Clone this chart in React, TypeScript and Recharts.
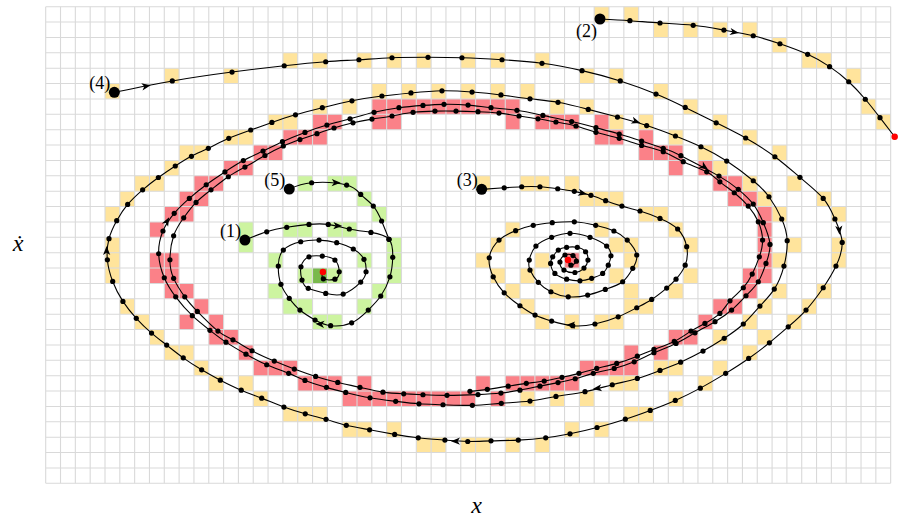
import React from 'react';
import {
  ComposedChart, Line, Scatter, XAxis, YAxis,
  ReferenceArea, ReferenceLine, Label,
} from 'recharts';

type P = [number, number];

// grid: 57 columns x 31 rows, y counted downward from the top row
const COLS = 57;
const ROWS = 31;
const X_MAX = 57.4; // a little room on the right for the exit point of (2)
const colTicks = Array.from({ length: COLS + 1 }, (_, i) => i);
const rowTicks = Array.from({ length: ROWS + 1 }, (_, i) => i);

const traj1: P[] = [
  [13.44, 15.18], [14.91, 14.64], [16.26, 14.35], [17.76, 14.16], [19.06, 14.16], [20.48, 14.46],
  [21.94, 14.68], [23.16, 15.13], [23.41, 16.3], [23.22, 17.57], [22.6, 18.82], [21.76, 19.73],
  [20.64, 20.56], [19.22, 20.75], [18.17, 20.38], [17.15, 19.73], [16.43, 18.97], [15.87, 18.06],
  [15.69, 16.87], [16.03, 15.83], [17.2, 15.29], [18.44, 15.18], [19.63, 15.35], [20.75, 15.76],
  [21.47, 16.43], [21.61, 17.24], [21.25, 17.91], [20.07, 18.69], [18.89, 18.65], [17.71, 18.32],
  [17.29, 17.78], [17.22, 16.92], [17.76, 16.27], [18.66, 16.22], [19.51, 16.48], [19.8, 17.24],
  [19.51, 17.72], [18.73, 17.7], [18.7, 17.26],
];

const traj2: P[] = [
  [37.39, 0.8], [39.41, 0.91], [41.44, 1.06], [43.68, 1.21], [45.75, 1.52], [47.73, 1.89],
  [49.53, 2.41], [51.4, 3.1], [52.88, 3.9], [54.17, 4.88], [55.29, 6.02], [56.28, 7.22], [57.27, 8.46],
];

const traj3: P[] = [
  [29.41, 11.88], [30.93, 11.78], [32.11, 11.71], [33.34, 11.71], [34.54, 11.84], [35.66, 12.01],
  [36.78, 12.27], [37.77, 12.62], [38.87, 12.97], [40.09, 13.29], [41.44, 13.77], [42.63, 14.46],
  [43.24, 15.61], [43.14, 16.81], [42.52, 17.72], [41.89, 18.3], [40.88, 19.04], [39.87, 19.58],
  [38.62, 20.17], [37.05, 20.64], [35.55, 20.75], [34.13, 20.45], [33.01, 20.06], [31.99, 19.45],
  [30.93, 18.61], [30.19, 17.57], [29.92, 16.33], [30.58, 15.18], [31.7, 14.57], [32.89, 14.22],
  [34.17, 14.05], [35.66, 13.99], [37.1, 14.22], [38.33, 14.59], [39.23, 15.18], [39.87, 16.15],
  [39.6, 17.02], [38.92, 17.89], [37.75, 18.39], [36.56, 18.76], [35.25, 18.87], [34.08, 18.54],
  [33.23, 17.93], [32.67, 17.13], [32.62, 16.48], [33.07, 15.57], [34.13, 15.0], [35.37, 14.74],
  [36.72, 15.0], [37.84, 15.57], [38.13, 16.2], [37.95, 16.81], [37.57, 17.35], [36.83, 17.67],
  [36.04, 17.83], [35.14, 17.72], [34.35, 17.35], [34.06, 16.7], [34.2, 16.27], [34.58, 15.83],
  [35.14, 15.65], [35.86, 15.65], [36.42, 15.94], [36.58, 16.48], [36.31, 17.0], [35.7, 17.29],
  [34.96, 17.13], [34.69, 16.61], [35.03, 16.15], [35.57, 16.19], [35.8, 16.55], [35.43, 16.81],
  [35.23, 16.48],
];

const traj4: P[] = [
  [4.63, 5.57], [8.54, 4.83], [12.57, 4.25], [16.09, 3.84], [18.89, 3.58], [21.13, 3.45],
  [23.36, 3.32], [25.79, 3.29], [28.08, 3.32], [30.78, 3.45], [33.48, 3.68], [36.18, 4.16],
  [38.76, 4.83], [41.17, 5.68], [43.14, 6.55], [45.23, 7.55], [47.22, 8.54], [49.19, 9.76],
  [50.88, 11.1], [52.45, 12.47], [53.24, 13.81], [53.73, 15.33], [53.31, 16.87], [52.45, 18.28],
  [51.29, 19.73], [50.09, 20.82], [48.82, 21.86], [47.42, 22.88], [45.87, 23.85], [44.16, 24.81],
  [42.47, 25.61], [40.78, 26.26], [39.1, 26.83], [37.19, 27.37], [35.37, 27.78], [33.73, 28.04],
  [31.88, 28.19], [30.04, 28.24], [28.47, 28.28], [26.93, 28.19], [25.13, 28.04], [23.54, 27.82],
  [21.85, 27.52], [20.28, 27.23], [18.91, 26.84], [17.51, 26.48], [16.07, 26.04], [14.57, 25.46],
  [13.19, 24.94], [11.78, 24.29], [10.52, 23.62], [9.28, 22.84], [8.16, 22.01], [7.14, 21.23],
  [6.11, 20.27], [5.21, 19.17], [4.52, 17.87], [4.16, 16.46], [4.27, 15.09], [4.79, 13.92],
  [5.53, 12.86], [6.54, 11.91], [7.6, 11.11], [8.74, 10.36], [9.83, 9.73], [10.97, 9.21],
  [12.35, 8.56], [13.83, 8.02], [15.26, 7.53], [16.85, 7.03], [18.66, 6.57], [20.66, 6.12],
  [22.68, 5.81], [24.64, 5.61], [26.73, 5.47], [28.76, 5.55], [30.71, 5.74], [32.67, 5.99],
  [34.56, 6.22], [36.6, 6.68], [38.57, 7.18], [40.54, 7.73], [42.48, 8.41], [44.2, 9.11],
  [45.94, 10.04], [47.73, 11.32], [48.79, 12.36], [49.65, 13.81], [50.02, 15.22], [49.8, 16.87],
  [49.15, 18.37], [48.18, 19.47], [47.06, 20.64], [45.77, 21.57], [44.34, 22.4], [42.83, 23.12],
  [41.44, 23.66], [39.91, 24.18], [38.22, 24.59], [36.38, 25.04], [34.42, 25.35], [32.67, 25.65],
  [30.73, 25.8], [28.78, 25.93], [26.8, 25.89], [25.18, 25.83], [23.61, 25.67], [21.88, 25.44],
  [20.24, 25.09], [18.94, 24.76], [17.49, 24.31], [16.39, 23.85], [14.91, 23.29], [13.51, 22.6],
  [12.16, 21.82], [11.08, 21.05], [9.89, 20.1], [8.77, 18.87], [8.0, 17.63], [7.62, 16.07],
  [7.91, 14.59], [8.67, 13.44], [9.69, 12.47], [10.83, 11.58], [12.09, 10.75], [13.33, 10.01],
  [14.66, 9.39], [15.97, 8.78], [17.49, 8.18], [18.97, 7.7], [20.53, 7.29], [22.15, 6.87],
  [23.83, 6.57], [25.45, 6.42], [26.87, 6.35], [28.49, 6.4], [30.04, 6.57], [31.79, 6.74],
  [33.54, 7.07], [35.48, 7.47], [37.12, 7.87], [38.69, 8.28], [40.2, 8.74], [41.66, 9.21],
  [42.85, 9.69], [45.42, 11.02], [46.72, 11.88], [47.73, 12.84], [48.41, 14.05], [48.86, 15.46],
  [48.59, 16.7], [48.07, 17.89], [47.24, 18.8], [46.27, 19.73], [45.15, 20.49], [43.8, 21.21],
  [42.52, 21.9], [41.03, 22.51], [39.7, 23.1], [38.35, 23.53], [36.94, 23.85], [35.72, 24.2],
  [34.56, 24.45], [33.34, 24.68], [31.99, 24.94], [30.71, 25.13], [29.16, 25.23], [27.07, 25.28],
  [25.45, 25.24], [24.15, 25.18], [22.75, 25.07], [21.2, 24.76], [19.7, 24.44], [18.21, 24.05],
  [16.77, 23.57], [15.42, 23.05], [13.92, 22.38], [12.63, 21.67], [11.62, 21.1], [10.23, 19.82],
  [9.38, 18.87], [8.63, 17.67], [8.38, 16.46], [8.63, 14.9], [9.31, 13.73], [10.14, 12.73],
  [11.15, 11.91], [12.32, 11.06], [13.44, 10.43], [14.79, 9.68], [16.03, 9.06], [17.15, 8.64],
  [18.3, 8.26], [19.45, 7.89], [20.73, 7.55], [22.01, 7.31], [23.36, 7.11], [24.78, 6.87],
  [26.26, 6.79], [27.68, 6.79], [29.16, 6.83], [30.58, 6.92], [31.93, 7.11], [33.21, 7.29],
  [34.42, 7.5], [35.77, 7.76], [37.12, 8.17], [38.69, 8.56], [40.2, 9.02], [41.66, 9.43],
  [43.01, 10.08], [44.59, 10.74], [45.48, 11.39], [46.45, 12.1], [47.39, 12.97], [48.07, 13.99],
  [48.36, 15.18], [48.14, 16.27], [47.66, 17.39], [47.06, 18.28], [46.16, 19.13], [45.48, 19.95],
  [44.47, 20.6], [43.53, 21.1], [42.4, 21.77], [41.03, 22.29], [39.91, 22.73], [38.52, 23.2],
  [37.17, 23.53], [35.97, 23.85], [34.83, 24.11], [33.63, 24.35], [32.42, 24.5], [31.2, 24.68],
  [29.79, 24.89], [28.62, 25.02],
];

const traj5: P[] = [
  [16.43, 11.86], [17.94, 11.45], [20.3, 11.6], [21.25, 12.21], [22.1, 12.97], [22.66, 13.94],
  [23.16, 15.13],
];

const trajectories = [traj1, traj2, traj3, traj4, traj5];
const startLabels = ['(1)', '(2)', '(3)', '(4)', '(5)'];

// arrowheads: x, y, heading in degrees (screen, clockwise from +x)
const arrows: [number, number, number][] = [
  [6.82, 5.16, -10], [53.53, 14.57, 85], [27.61, 28.26, 180], [4.11, 15.83, -90],
  [39.86, 7.48, 18], [37.17, 24.83, 172], [8.2, 13.92, -62], [44.47, 10.45, 35],
  [46.5, 1.67, 10], [19.74, 14.25, 2], [18.46, 20.64, 185], [19.63, 11.45, 2],
  [36.26, 12.14, 12], [35.38, 20.71, 180],
];

// red points: the two equilibria (the exit of (2) is added from traj2)
const equilibria: P[] = [[18.7, 17.26], [35.23, 16.48]];

// coloured cells [col, row]
const yellowCells: P[] = [
  [37, 0], [39, 0],
  [41, 1], [43, 1], [45, 1], [47, 1],
  [49, 2],
  [16, 3], [18, 3], [21, 3], [23, 3], [25, 3], [28, 3], [30, 3], [33, 3], [51, 3], [52, 3],
  [8, 4], [12, 4], [36, 4], [38, 4], [54, 4],
  [4, 5], [22, 5], [24, 5], [26, 5], [28, 5], [30, 5], [32, 5], [41, 5],
  [18, 6], [20, 6], [34, 6], [36, 6], [43, 6], [55, 6],
  [15, 7], [16, 7], [38, 7], [40, 7], [45, 7], [56, 7],
  [12, 8], [13, 8], [42, 8], [47, 8],
  [9, 9], [10, 9], [44, 9], [49, 9],
  [8, 10], [45, 10],
  [6, 11], [7, 11], [29, 11], [32, 11], [33, 11], [35, 11], [47, 11], [50, 11],
  [5, 12], [36, 12], [37, 12], [38, 12], [48, 12], [52, 12],
  [4, 13], [40, 13], [41, 13], [49, 13], [53, 13],
  [31, 14], [37, 14], [42, 14],
  [4, 15], [30, 15], [38, 15], [39, 15], [43, 15], [50, 15], [53, 15],
  [4, 16], [29, 16], [33, 16], [39, 16], [49, 16], [53, 16],
  [4, 17], [30, 17], [32, 17], [36, 17], [38, 17], [43, 17],
  [31, 18], [34, 18], [35, 18], [39, 18], [42, 18], [49, 18], [52, 18],
  [5, 19], [32, 19], [39, 19], [40, 19], [48, 19], [51, 19],
  [6, 20], [33, 20], [35, 20], [37, 20], [38, 20], [47, 20], [50, 20],
  [7, 21], [45, 21], [48, 21],
  [8, 22], [9, 22], [47, 22],
  [10, 23], [41, 23], [42, 23], [45, 23],
  [11, 24], [13, 24], [38, 24], [39, 24], [44, 24],
  [14, 25], [32, 25], [34, 25], [36, 25], [42, 25],
  [16, 26], [17, 26], [18, 26], [39, 26], [40, 26],
  [20, 27], [21, 27], [23, 27], [35, 27], [37, 27],
  [25, 28], [26, 28], [28, 28], [29, 28], [31, 28], [33, 28],
];

const redCells: P[] = [
  [22, 6], [23, 6], [24, 6], [25, 6], [26, 6], [27, 6], [28, 6], [29, 6], [30, 6], [31, 6],
  [18, 7], [19, 7], [22, 7], [23, 7], [31, 7], [33, 7], [34, 7], [35, 7], [37, 7],
  [16, 8], [17, 8], [18, 8], [37, 8], [38, 8], [40, 8],
  [14, 9], [15, 9], [40, 9], [41, 9], [42, 9],
  [12, 10], [13, 10], [42, 10], [44, 10],
  [10, 11], [11, 11], [45, 11], [46, 11],
  [9, 12], [10, 12], [46, 12], [47, 12],
  [8, 13], [9, 13], [48, 13],
  [7, 14], [48, 14],
  [48, 15],
  [7, 16], [8, 16], [35, 16], [48, 16],
  [7, 17], [8, 17], [47, 17], [48, 17],
  [8, 18], [9, 18], [47, 18],
  [10, 19], [45, 19], [46, 19],
  [9, 20], [11, 20], [44, 20],
  [11, 21], [12, 21], [42, 21], [43, 21],
  [13, 22], [39, 22], [41, 22],
  [14, 23], [15, 23], [16, 23], [36, 23], [37, 23], [38, 23], [39, 23],
  [17, 24], [18, 24], [19, 24], [21, 24], [29, 24], [31, 24], [32, 24], [33, 24], [34, 24], [35, 24],
  [20, 25], [21, 25], [22, 25], [23, 25], [24, 25], [25, 25], [26, 25], [27, 25], [28, 25], [30, 25],
];

const greenCells: P[] = [
  [17, 11], [19, 11], [20, 11],
  [21, 12],
  [22, 13],
  [13, 14], [16, 14], [17, 14], [19, 14], [20, 14],
  [13, 15], [23, 15],
  [15, 16], [21, 16], [23, 16],
  [17, 17], [19, 17], [23, 17],
  [15, 18], [22, 18],
  [16, 19], [17, 19], [21, 19],
  [18, 20], [19, 20],
];

const darkGreenCells: P[] = [[18, 17]];

const toPts = (a: P[]) => a.map(([x, y]) => ({ x, y }));

const serif = "'Liberation Serif', 'DejaVu Serif', serif";
const gridColor = '#d9d9d9';

const ArrowHead = (props: any) => {
  const { cx, cy, payload } = props;
  return (
    <path
      d="M 4 0 L -5 -3.6 L -2.6 0 L -5 3.6 Z"
      transform={`translate(${cx},${cy}) rotate(${payload.a})`}
      fill="#000"
    />
  );
};

const RedDot = (props: any) => {
  const { cx, cy } = props;
  return <circle cx={cx} cy={cy} r={3.2} fill="#ff0000" />;
};

const StartDot = (props: any) => {
  const { cx, cy, payload } = props;
  const below = payload.label === '(2)';
  return (
    <g>
      <circle cx={cx} cy={cy} r={5.5} fill="#000" />
      <text
        x={cx - (below ? 3 : 4)}
        y={cy + (below ? 18 : -3)}
        textAnchor="end"
        fontFamily={serif}
        fontSize={18}
        fill="#000"
      >
        {payload.label}
      </text>
    </g>
  );
};

const XTitle = (props: any) => {
  const { viewBox } = props;
  return (
    <text
      x={viewBox.x + 431}
      y={viewBox.y + 29.5}
      textAnchor="middle"
      fontFamily={serif}
      fontStyle="italic"
      fontSize={24}
      fill="#000"
    >
      x
    </text>
  );
};

const YTitle = (props: any) => {
  const { viewBox } = props;
  return (
    <text
      x={viewBox.x + 18}
      y={viewBox.y + viewBox.height / 2 + 6}
      textAnchor="middle"
      fontFamily={serif}
      fontStyle="italic"
      fontSize={24}
      fill="#000"
    >
      ẋ
    </text>
  );
};

const cellLayer = (cells: P[], fill: string, key: string) =>
  cells.map(([c, r]) => (
    <ReferenceArea
      key={`${key}-${c}-${r}`}
      x1={c}
      x2={c + 1}
      y1={r}
      y2={r + 1}
      fill={fill}
      fillOpacity={1}
      stroke="none"
    />
  ));

export default function App() {
  const starts = trajectories.map((t, i) => ({ x: t[0][0], y: t[0][1], label: startLabels[i] }));
  const arrowData = arrows.map(([x, y, a]) => ({ x, y, a }));
  const redPoints = toPts([...equilibria, traj2[traj2.length - 1]]);
  return (
    <div style={{ position: 'fixed', top: 0, left: 0, width: 900, height: 517, background: '#fff' }}>
      <ComposedChart width={900} height={517} margin={{ top: 6.7, right: 3.4, bottom: 0, left: 0 }}>
        <XAxis
          type="number"
          dataKey="x"
          domain={[0, X_MAX]}
          tick={false}
          tickLine={false}
          axisLine={false}
          height={33.7}
        >
          <Label content={XTitle} />
        </XAxis>
        <YAxis
          type="number"
          dataKey="y"
          domain={[0, ROWS]}
          reversed
          tick={false}
          tickLine={false}
          axisLine={false}
          width={45.7}
        >
          <Label content={YTitle} />
        </YAxis>
        {cellLayer(yellowCells, '#ffe49c', 'y')}
        {cellLayer(redCells, '#fb8188', 'r')}
        {cellLayer(greenCells, '#cdf4a0', 'g')}
        {cellLayer(darkGreenCells, '#79b94c', 'd')}
        {colTicks.map((c) => (
          <ReferenceLine
            key={`vc${c}`}
            segment={[{ x: c, y: 0 }, { x: c, y: ROWS }]}
            stroke={gridColor}
            strokeWidth={1.1}
          />
        ))}
        {rowTicks.map((r) => (
          <ReferenceLine
            key={`hr${r}`}
            segment={[{ x: 0, y: r }, { x: COLS, y: r }]}
            stroke={gridColor}
            strokeWidth={1.1}
          />
        ))}
        {trajectories.map((t, i) => (
          <Line
            key={`t${i}`}
            data={toPts(t)}
            dataKey="y"
            type="natural"
            stroke="#000"
            strokeWidth={1.1}
            dot={{ r: 2.6, fill: '#000', stroke: 'none' }}
            activeDot={false}
            isAnimationActive={false}
          />
        ))}
        <Scatter data={arrowData} dataKey="y" shape={ArrowHead} isAnimationActive={false} />
        <Scatter data={starts} dataKey="y" shape={StartDot} isAnimationActive={false} />
        <Scatter data={redPoints} dataKey="y" shape={RedDot} isAnimationActive={false} />
      </ComposedChart>
    </div>
  );
}
